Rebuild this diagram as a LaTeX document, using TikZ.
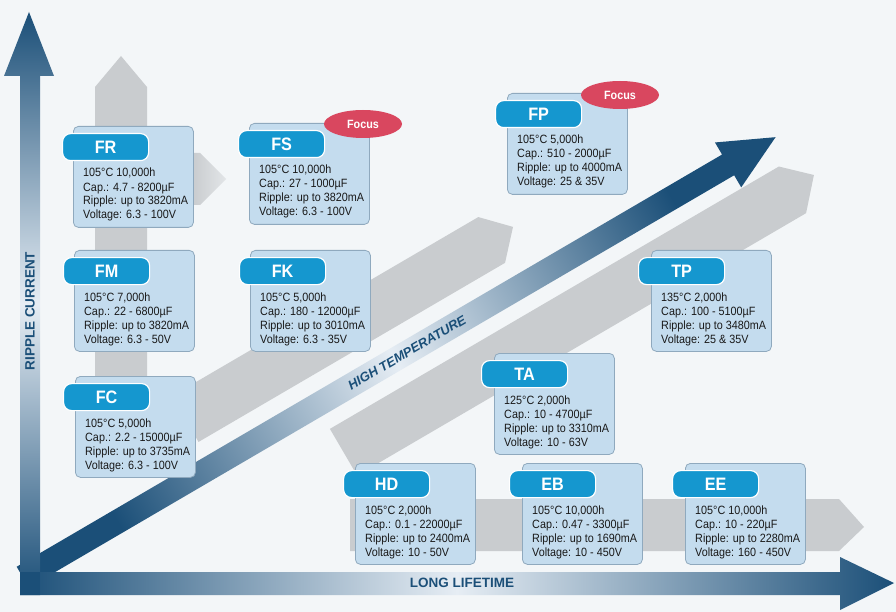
\documentclass[tikz,border=0pt]{standalone}
\usepackage{fontspec}
\setmainfont{Liberation Sans}[FakeStretch=0.9]
\newfontfamily\labelsans{Liberation Sans}
\usetikzlibrary{shapes.geometric}
\definecolor{bg}{HTML}{F3F6F8}
\definecolor{axdark}{HTML}{1B4F78}
\definecolor{axlight}{HTML}{E6EDF4}
\definecolor{band}{HTML}{C9CCCF}
\definecolor{boxfill}{HTML}{C4DCEE}
\definecolor{boxline}{HTML}{8FA9BE}
\definecolor{tabblue}{HTML}{1597CF}
\definecolor{focus}{HTML}{D9475F}
\tikzset{
  panel/.style={draw=boxline, fill=boxfill, rounded corners=5pt, line width=0.8pt, minimum width=120pt, minimum height=101pt, anchor=north west, inner sep=0pt},
  tab/.style={draw=white, fill=tabblue, rounded corners=8pt, line width=1.2pt, minimum width=86pt, minimum height=27pt, anchor=north west, inner sep=0pt, text=white, font=\fontsize{18}{18}\selectfont\bfseries},
  spec/.style={anchor=base west, align=left, inner sep=0pt, text=black!90, font=\fontsize{12}{14}\selectfont},
  focusmark/.style={ellipse, fill=focus, minimum width=78pt, minimum height=28pt, inner sep=0pt, text=white, font=\fontsize{12}{12}\selectfont\bfseries},
  axlabel/.style={text=axdark, font=\labelsans\fontsize{13.5}{13.5}\selectfont\bfseries},
  grayband/.style={fill=band}
}
% #1 name, #2 box x, #3 box y, #4 tab dx, #5 title, #6 text
\newcommand{\capbox}[6]{%
  \node[panel] (#1) at (#2,#3) {};
  \node[tab] (#1t) at (#2-#4,#3+7) {#5};
  \node[spec] (#1s) at (#2+10,#3+93) {#6};
}
\begin{document}
\begin{tikzpicture}[x=1pt,y=-1pt]
\fill[bg] (0,0) rectangle (896,612);
\useasboundingbox (0,0) rectangle (896,612);
% gray bands
\fill[grayband] (95,400) -- (95,87) -- (121,56) -- (147,87) -- (147,400) -- cycle;
\shade[left color=band, right color=bg!60!band] (193,153) -- (200,153) -- (226,179) -- (200,205) -- (193,205) -- cycle;
\fill[grayband] (350,499) -- (839,499) -- (864,527) -- (839,551) -- (350,551) -- cycle;
\begin{scope}[shift={(40,567)}, rotate=30.3]
  \fill[grayband] (200,-81) -- (555,-81) -- (580,-55) -- (555,-28) -- (200,-28) -- cycle;
  \fill[grayband] (320,27) -- (840,27) -- (866,52) -- (840,81) -- (320,81) -- cycle;
  \shade[left color=axdark, right color=axdark, middle color=axlight, shading angle=120]
    (-20,-12) -- (797,-12) -- (797,-26) -- (852,0) -- (797,26) -- (797,12) -- (-20,12) -- cycle;
  \node[axlabel, rotate=30.3, font=\labelsans\fontsize{13}{13}\selectfont\bfseries\itshape] (ht) at (425,0) {HIGH TEMPERATURE};
\end{scope}
% axes
\shade[top color=axdark, bottom color=axdark, middle color=axlight]
  (20,595) -- (20,76) -- (4,76) -- (29,12) -- (54,76) -- (40,76) -- (40,595) -- cycle;
\shade[left color=axdark, right color=axdark, middle color=axlight, shading angle=90]
  (20,572) -- (840,572) -- (840,557) -- (894,583) -- (840,610) -- (840,595) -- (20,595) -- cycle;
\fill[axdark] (20,572) rectangle (40,595);
\node[axlabel, rotate=90] (rc) at (30,311) {RIPPLE CURRENT};
\node[axlabel] (ll) at (462,583) {LONG LIFETIME};
% boxes
\capbox{fr}{73}{126}{11}{FR}{105°C 10,000h\\Cap.: 4.7 - 8200µF\\Ripple: up to 3820mA\\Voltage: 6.3 - 100V}
\capbox{fs}{249}{123}{11}{FS}{105°C 10,000h\\Cap.: 27 - 1000µF\\Ripple: up to 3820mA\\Voltage: 6.3 - 100V}
\capbox{fm}{74}{250}{11}{FM}{105°C 7,000h\\Cap.: 22 - 6800µF\\Ripple: up to 3820mA\\Voltage: 6.3 - 50V}
\capbox{fk}{250}{250}{11}{FK}{105°C 5,000h\\Cap.: 180 - 12000µF\\Ripple: up to 3010mA\\Voltage: 6.3 - 35V}
\capbox{fc}{75}{376}{12}{FC}{105°C 5,000h\\Cap.: 2.2 - 15000µF\\Ripple: up to 3735mA\\Voltage: 6.3 - 100V}
\capbox{fp}{507}{93}{12}{FP}{105°C 5,000h\\Cap.: 510 - 2000µF\\Ripple: up to 4000mA\\Voltage: 25 \& 35V}
\capbox{tp}{651}{250}{13}{TP}{135°C 2,000h\\Cap.: 100 - 5100µF\\Ripple: up to 3480mA\\Voltage: 25 \& 35V}
\capbox{ta}{494}{353}{13}{TA}{125°C 2,000h\\Cap.: 10 - 4700µF\\Ripple: up to 3310mA\\Voltage: 10 - 63V}
\capbox{hd}{355}{463}{12}{HD}{105°C 2,000h\\Cap.: 0.1 - 22000µF\\Ripple: up to 2400mA\\Voltage: 10 - 50V}
\capbox{eb}{522}{463}{13}{EB}{105°C 10,000h\\Cap.: 0.47 - 3300µF\\Ripple: up to 1690mA\\Voltage: 10 - 450V}
\capbox{ee}{685}{463}{13}{EE}{105°C 10,000h\\Cap.: 10 - 220µF\\Ripple: up to 2280mA\\Voltage: 160 - 450V}
\node[focusmark] (fsf) at (363,124) {Focus};
\node[focusmark] (fpf) at (620,95) {Focus};
\end{tikzpicture}
\end{document}
